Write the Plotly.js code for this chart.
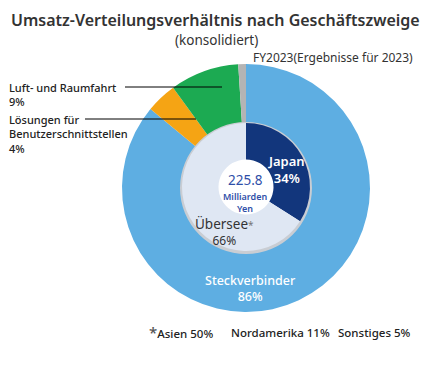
<!DOCTYPE html>
<html><head><meta charset="utf-8">
<script src="https://cdn.plot.ly/plotly-3.0.1.min.js"></script>
<style>html,body{margin:0;padding:0;background:#fff;}#chart{width:429px;height:373px;}</style>
</head><body><div id="chart"></div>
<script>
const segments = ["Steckverbinder", "Lösungen für Benutzerschnittstellen", "Luft- und Raumfahrt", "Sonstiges"];
const segmentValues = [86, 4, 9, 1];
const regions = ["Japan", "Übersee"];
const regionValues = [34, 66];
const totalSales = "225.8";
const overseasBreakdown = [["Asien", 50], ["Nordamerika", 11], ["Sonstiges", 5]];

const FONT = "Noto Sans, sans-serif";
const outer = {
  type: "pie", values: segmentValues, labels: segments, sort: false, direction: "clockwise", rotation: 0,
  hole: 0.52, textinfo: "none", hoverinfo: "label+percent",
  marker: {colors: ["#5eaee2", "#f5a414", "#1caa52", "#b4b4b4"], line: {width: 0}},
  domain: {x: [122/429, 370/429], y: [61/373, 309/373]}, showlegend: false
};
const shadow = {
  type: "pie", values: [1], labels: ["s"], hole: 0.9, textinfo: "none", hoverinfo: "skip",
  marker: {colors: ["#c9cdd3"], line: {width: 0}},
  domain: {x: [180/429, 312/429], y: [119/373, 251/373]}, showlegend: false
};
const inner = {
  type: "pie", values: regionValues, labels: regions, sort: false, direction: "clockwise", rotation: 0,
  hole: 0.43, textinfo: "none", hoverinfo: "label+percent",
  marker: {colors: ["#12367c", "#dfe7f3"], line: {width: 0}},
  domain: {x: [182/429, 310/429], y: [122/373, 250/373]}, showlegend: false
};
const px = x => x/429, py = y => 1 - y/373;
const ann = (x, y, text, size, color, anchor, weight) => ({
  x: px(x), y: py(y), xref: "paper", yref: "paper", text: text, showarrow: false,
  xanchor: anchor || "center", yanchor: "middle", align: anchor === "left" ? "left" : "center",
  font: {family: FONT, size: size, color: color, weight: weight || 400}
});
const annotations = [
  ann(215, 20, "Umsatz-Verteilungsverhältnis nach Geschäftszweige", 16, "#333", "center", 600),
  ann(216, 40, "(konsolidiert)", 13.5, "#333"),
  ann(415, 57, "FY2023(Ergebnisse für 2023)", 12, "#333", "right"),
  ann(7, 95, segments[2] + "<br>" + segmentValues[2] + "%", 11, "#222", "left", 500),
  ann(7, 134, "Lösungen für<br>Benutzerschnittstellen<br>" + segmentValues[1] + "%", 11, "#222", "left", 500),
  ann(286, 169, regions[0] + "<br>" + regionValues[0] + "%", 13, "#fff", "center", 600),
  ann(224, 232, "<span style='font-size:13.5px'>" + regions[1] + "</span><span style='font-size:10px;color:#777'>*</span><br>" + regionValues[1] + "%", 12, "#333"),
  ann(250, 288, segments[0] + "<br>" + segmentValues[0] + "%", 12.5, "#fff", "center", 500),
  ann(245, 180, totalSales, 13.5, "#2f4fa8"),
  ann(245, 196, "Milliarden", 9, "#2f4fa8", "center", 600),
  ann(245, 208, "Yen", 9, "#2f4fa8", "center", 600),
  ann(147, 332, "<span style='font-size:15px;color:#555'>*</span>" + overseasBreakdown[0][0] + " " + overseasBreakdown[0][1] + "%", 11.5, "#222", "left", 500),
  ann(229, 332, overseasBreakdown[1][0] + " " + overseasBreakdown[1][1] + "%", 11.5, "#222", "left", 500),
  ann(336, 332, overseasBreakdown[2][0] + " " + overseasBreakdown[2][1] + "%", 11.5, "#222", "left", 500)
];
const shapes = [
  {type: "line", xref: "paper", yref: "paper", x0: px(125), x1: px(222), y0: py(87), y1: py(87), line: {color: "#000", width: 1}},
  {type: "line", xref: "paper", yref: "paper", x0: px(85), x1: px(196), y0: py(119), y1: py(119), line: {color: "#000", width: 1}}
];
Plotly.newPlot("chart", [outer, shadow, inner], {
  width: 429, height: 373, margin: {l: 0, r: 0, t: 0, b: 0},
  paper_bgcolor: "#fff", annotations: annotations, shapes: shapes
}, {displayModeBar: false, staticPlot: true});
</script></body></html>
